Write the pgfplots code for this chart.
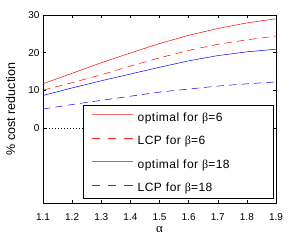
\documentclass[border=0pt]{standalone}
\usepackage{fontspec}
\setmainfont{Liberation Sans}
\newfontfamily\grk{Liberation Serif}
\newfontfamily\legfont[LetterSpace=4]{Liberation Sans}
\usepackage{pgfplots}
\pgfplotsset{compat=1.18}
\newcommand{\solidimg}[1]{\textcolor{#1}{\rule[3pt]{41pt}{1.1pt}}}
\newcommand{\dashimg}[1]{\textcolor{#1}{\rule[3.2pt]{8.3pt}{0.8pt}\hspace{8pt}\rule[3.2pt]{8.3pt}{0.8pt}\hspace{8pt}\rule[3.2pt]{8.3pt}{0.8pt}}}
\begin{document}
\begin{tikzpicture}
\begin{axis}[
  scale only axis,
  width=233pt, height=188pt,
  xmin=1.1, xmax=1.9, ymin=-20, ymax=30,
  xtick={1.1,1.2,...,1.9},
  ytick={0,10,20,30},
  tick align=inside,
  major tick length=3pt,
  tick style={black, line width=0.4pt},
  axis line style={black, line width=0.5pt},
  xticklabel style={/pgf/number format/fixed,/pgf/number format/precision=1,/pgf/number format/fixed zerofill, anchor=base, yshift=-18pt},
  /pgf/number format/assume math mode=true,
  tick label style={font=\fontsize{10}{12}\selectfont},
  xlabel={{\grk α}},
  ylabel={\% cost reduction},
  xlabel style={at={(axis description cs:0.5,0)}, anchor=base, yshift=-30pt, font=\fontsize{13}{15}\selectfont},
  ylabel style={at={(axis description cs:-0.12,0.5)}, anchor=base, font=\fontsize{12.5}{15}\selectfont},
  legend cell align=left,
  legend style={at={(axis description cs:1,0)}, anchor=south east, xshift=-2pt, yshift=4pt,
    draw=black, fill=white, line width=0.6pt,
    font=\legfont\fontsize{12}{14}\selectfont, row sep=8.5pt, inner xsep=8pt, inner ysep=4pt,
    column sep=5pt,
    nodes={inner sep=0pt, text height=9pt, text depth=3pt},
    /tikz/every even column/.append style={text width=128pt}},
]
\addplot[draw=black, dash pattern=on 0.8pt off 2.2pt, forget plot] coordinates {(1.1,0) (1.9,0)};
\addplot[draw=red, line width=0.5pt, forget plot] coordinates {
(1.1,11.7) (1.2,14.5) (1.3,17.3) (1.4,19.9) (1.5,22.4) (1.6,24.6) (1.7,26.4) (1.8,27.9) (1.9,29.0)};
\addplot[draw=red, line width=0.5pt, dash pattern=on 7.5pt off 5pt, forget plot] coordinates {
(1.1,10.0) (1.2,12.0) (1.3,14.1) (1.4,16.4) (1.5,18.6) (1.6,20.6) (1.7,22.2) (1.8,23.4) (1.9,24.4)};
\addplot[draw=blue, line width=0.5pt, forget plot] coordinates {
(1.1,8.6) (1.2,10.6) (1.3,12.5) (1.4,14.3) (1.5,16.1) (1.6,17.8) (1.7,19.2) (1.8,20.2) (1.9,20.9)};
\addplot[draw=blue, line width=0.5pt, dash pattern=on 7.5pt off 5pt, forget plot] coordinates {
(1.1,5.0) (1.2,6.2) (1.3,7.3) (1.4,8.4) (1.5,9.5) (1.6,10.3) (1.7,11.1) (1.8,11.7) (1.9,12.2)};
\addlegendimage{legend image code/.code={\node[inner sep=0pt, anchor=base west] at (0pt,0pt) {\solidimg{red!60}};}}
\addlegendentry{optimal for {\grk β}=6}
\addlegendimage{legend image code/.code={\node[inner sep=0pt, anchor=base west] at (0pt,0pt) {\dashimg{red!85}};}}
\addlegendentry{LCP for {\grk β}=6}
\addlegendimage{legend image code/.code={\node[inner sep=0pt, anchor=base west] at (0pt,0pt) {\solidimg{blue!55}};}}
\addlegendentry{optimal for {\grk β}=18}
\addlegendimage{legend image code/.code={\node[inner sep=0pt, anchor=base west] at (0pt,0pt) {\dashimg{blue!80}};}}
\addlegendentry{LCP for {\grk β}=18}
\end{axis}
\pgfresetboundingbox
\path (current axis.south west) ++(-43pt,-37pt) rectangle ++(291pt,240pt);
\end{tikzpicture}
\end{document}
